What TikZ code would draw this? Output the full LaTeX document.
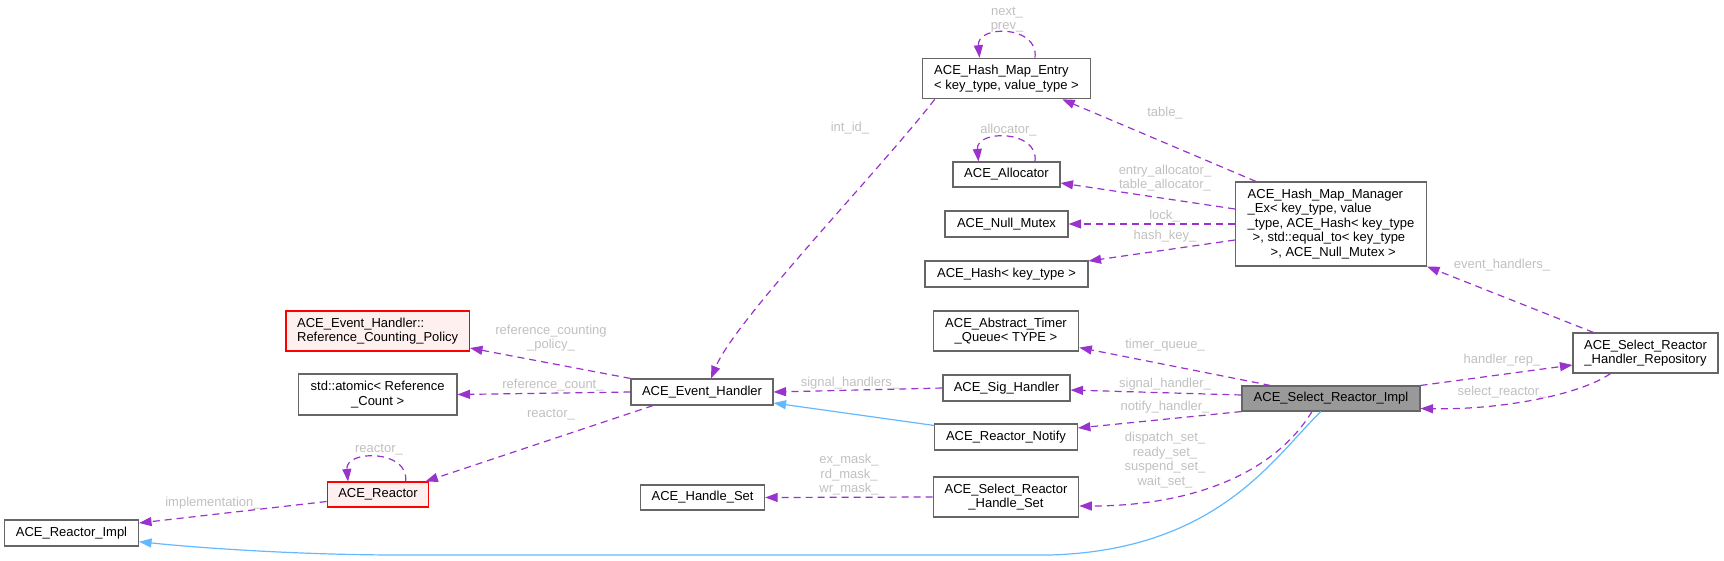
\documentclass[tikz,border=0pt]{standalone}
\usepackage{fontspec}
\setmainfont{Liberation Sans}
\usetikzlibrary{arrows.meta}
\definecolor{edgepurple}{HTML}{9A32CD}
\definecolor{edgeblue}{HTML}{63B8FF}
\definecolor{boxgray}{HTML}{666666}
\definecolor{labelgray}{HTML}{C0C0C0}
\definecolor{redfill}{HTML}{FFF0F0}
\definecolor{mainfill}{HTML}{999999}
\tikzset{
  cls/.style = {draw=boxgray, fill=white, line width=1.1pt, inner sep=0pt, align=center,
    font=\fontsize{13}{14.5}\selectfont},
  clsred/.style = {cls, draw=red, fill=redfill},
  clsmain/.style = {cls, fill=mainfill},
  dep/.style = {draw=edgepurple, line width=1.2pt, dash pattern=on 7pt off 5pt,
    -{Triangle[length=12.5pt, width=9pt]}},
  inh/.style = {draw=edgeblue, line width=1.2pt, -{Triangle[length=12.5pt, width=9pt]}},
  lbl/.style = {text=labelgray, inner sep=0pt, align=center, font=\fontsize{13}{14.5}\selectfont}
}
\begin{document}
\begin{tikzpicture}[x=1pt, y=-1pt]
\useasboundingbox (0,0) rectangle (1724,560);
\node[cls, minimum width=134pt, minimum height=26pt] (reactorimpl) at (71.5,533) {ACE\_Reactor\_Impl};
\node[clsred, minimum width=101.6pt, minimum height=25pt] (reactor) at (378,494.5) {ACE\_Reactor};
\node[cls, minimum width=158.5pt, minimum height=41pt] (atomic) at (377.7,394.5) {std::atomic< Reference\\\_Count >};
\node[clsred, align=left, minimum width=183.5pt, minimum height=40pt] (policy) at (377.7,331) {ACE\_Event\_Handler::\\Reference\_Counting\_Policy};
\node[cls, minimum width=142pt, minimum height=26pt] (evhandler) at (702,392) {ACE\_Event\_Handler};
\node[cls, minimum width=124pt, minimum height=25pt] (handleset) at (702.6,497.5) {ACE\_Handle\_Set};
\node[cls, minimum width=145.5pt, minimum height=40pt] (timerq) at (1006,331) {ACE\_Abstract\_Timer\\\_Queue< TYPE >};
\node[cls, minimum width=127pt, minimum height=26pt] (sighandler) at (1006.5,388) {ACE\_Sig\_Handler};
\node[cls, minimum width=142.7pt, minimum height=26pt] (notify) at (1006,437) {ACE\_Reactor\_Notify};
\node[cls, minimum width=145.5pt, minimum height=40pt] (rhandleset) at (1006,497) {ACE\_Select\_Reactor\\\_Handle\_Set};
\node[cls, align=left, minimum width=168.4pt, minimum height=40.5pt] (entry) at (1006.5,78.5) {ACE\_Hash\_Map\_Entry\\< key\_type, value\_type >};
\node[cls, minimum width=107pt, minimum height=25pt] (allocator) at (1006.5,174.5) {ACE\_Allocator};
\node[cls, minimum width=123pt, minimum height=26pt] (mutex) at (1006.5,224) {ACE\_Null\_Mutex};
\node[cls, minimum width=163pt, minimum height=26pt] (hash) at (1006.5,274) {ACE\_Hash< key\_type >};
\node[cls, align=left, minimum width=191pt, minimum height=84pt] (manager) at (1331,224) {ACE\_Hash\_Map\_Manager\\\_Ex< key\_type, value\\\_type, ACE\_Hash< key\_type\\\hspace*{5pt}>, std::equal\_to< key\_type\\\hspace*{23pt}>, ACE\_Null\_Mutex >};
\node[cls, minimum width=145pt, minimum height=40pt] (repo) at (1645.5,353) {ACE\_Select\_Reactor\\\_Handler\_Repository};
\node[clsmain, minimum width=178pt, minimum height=25pt] (impl) at (1331,398.5) {ACE\_Select\_Reactor\_Impl};
\draw[dep] ([yshift=-7pt]reactor.west) -- ([yshift=10pt]reactorimpl.east);
\draw[dep] ([xshift=27.6pt]reactor.north) .. controls +(4,-32) and +(-3,-32) .. ([xshift=-30pt]reactor.north);
\draw[dep] ([xshift=22.6pt]evhandler.south west) -- ([xshift=-4pt]reactor.north east);
\draw[dep] (evhandler.west) -- (atomic.east);
\draw[dep] (evhandler.north west) -- ([yshift=-17pt]policy.east);
\draw[dep] (sighandler.west) -- (evhandler.east);
\draw[inh] ([yshift=-2pt]notify.north west) -- ([yshift=-11pt]evhandler.east);
\draw[dep] (rhandleset.west) -- (handleset.east);
\draw[dep] ([xshift=13pt]entry.south west) .. controls (880,170) and (735,320) .. ([xshift=9pt]evhandler.north);
\draw[dep] ([xshift=28.5pt]entry.north) .. controls +(4,-33) and +(-3,-33) .. ([xshift=-27pt]entry.north);
\draw[dep] ([xshift=28.5pt]allocator.north) .. controls +(4,-32) and +(-3,-32) .. ([xshift=-28pt]allocator.north);
\draw[dep] ([xshift=21pt]manager.north west) -- ([xshift=-29pt]entry.south east);
\draw[dep] ([yshift=15pt]manager.west) -- ([yshift=-8.5pt]allocator.east);
\draw[dep] (manager.west) -- (mutex.east);
\draw[dep] ([yshift=-16pt]manager.west) -- ([yshift=13pt]hash.east);
\draw[dep] ([xshift=21pt]repo.north west) -- (manager.south east);
\draw[dep] (impl.north east) -- ([yshift=-12pt]repo.west);
\draw[dep] ([xshift=38pt]repo.south west) .. controls (1580,395) and (1500,410) .. ([yshift=-10pt]impl.east);
\draw[dep] ([xshift=29pt]impl.north west) -- ([yshift=4pt]timerq.south east);
\draw[dep] ([yshift=3.5pt]impl.west) -- ([yshift=-2pt]sighandler.east);
\draw[dep] (impl.south west) -- ([yshift=9pt]notify.east);
\draw[dep] ([xshift=-19pt]impl.south) .. controls (1270,480) and (1180,506) .. ([yshift=-9pt]rhandleset.east);
\draw[inh] ([xshift=-10pt]impl.south) .. controls (1275,455) and (1220,550) .. (1050,555) -- (400,555) .. controls (300,555) and (200,548) .. ([yshift=-8.7pt]reactorimpl.east);
\node[lbl] (limplementation) at (213,503) {implementation\_};
\node[lbl] (lreactorself) at (379,450) {reactor\_};
\node[lbl] (lreactor) at (551,415) {reactor\_};
\node[lbl] (lrefcount) at (553,385) {reference\_count\_};
\node[lbl] (lpolicy) at (551,338) {reference\_counting\\\_policy\_};
\node[lbl] (lsignals) at (850,383) {signal\_handlers\_};
\node[lbl] (lmasks) at (849,475) {ex\_mask\_\\rd\_mask\_\\wr\_mask\_};
\node[lbl] (lintid) at (850,128) {int\_id\_};
\node[lbl] (lnext) at (1007,19.5) {next\_\\prev\_};
\node[lbl] (lallocator) at (1008.5,130) {allocator\_};
\node[lbl] (ltable) at (1165,112.7) {table\_};
\node[lbl] (lentryalloc) at (1165,178) {entry\_allocator\_\\table\_allocator\_};
\node[lbl] (llock) at (1164.5,216) {lock\_};
\node[lbl] (lhashkey) at (1165,236) {hash\_key\_};
\node[lbl] (levents) at (1502,265) {event\_handlers\_};
\node[lbl] (lhandlerrep) at (1502,360) {handler\_rep\_};
\node[lbl] (lselect) at (1502,391.7) {select\_reactor\_};
\node[lbl] (ltimer) at (1165,345) {timer\_queue\_};
\node[lbl] (lsignal) at (1165,384) {signal\_handler\_};
\node[lbl] (lnotify) at (1165,407) {notify\_handler\_};
\node[lbl] (lsets) at (1165,460) {dispatch\_set\_\\ready\_set\_\\suspend\_set\_\\wait\_set\_};
\end{tikzpicture}
\end{document}
